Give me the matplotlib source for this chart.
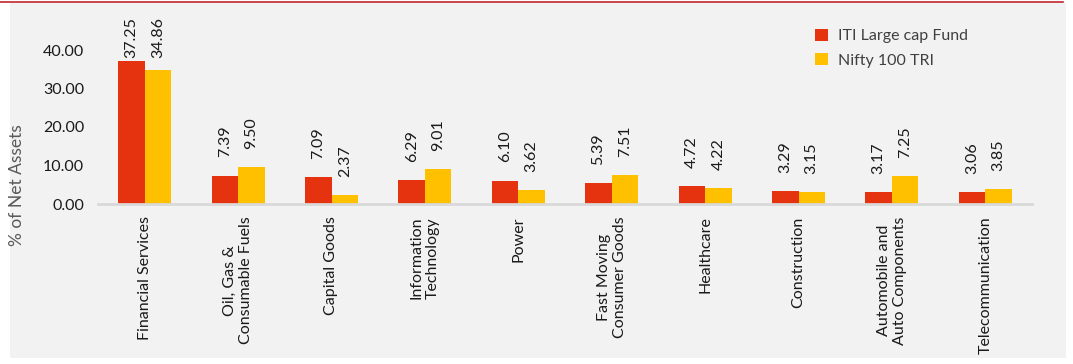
import matplotlib
matplotlib.use("Agg")
import matplotlib.pyplot as plt
from matplotlib.patches import Rectangle
from matplotlib.lines import Line2D
import numpy as np

categories = ["Financial Services", "Oil, Gas &\nConsumable Fuels", "Capital Goods",
              "Information\nTechnology", "Power", "Fast Moving\nConsumer Goods",
              "Healthcare", "Construction", "Automobile and\nAuto Components",
              "Telecommunication"]
fund = [37.25, 7.39, 7.09, 6.29, 6.10, 5.39, 4.72, 3.29, 3.17, 3.06]
index = [34.86, 9.50, 2.37, 9.01, 3.62, 7.51, 4.22, 3.15, 7.25, 3.85]
series_names = ["ITI Large cap Fund", "Nifty 100 TRI"]
yticks = [0, 10, 20, 30, 40]

RED = "#E5330F"
YEL = "#FFC000"
plt.rcParams['font.family'] = ['Lato', 'DejaVu Sans']

W, H = 1073, 364
fig = plt.figure(figsize=(W/100, H/100), dpi=100, facecolor="white")
fig.patches.append(Rectangle((10/W, 6/H), 1056/W, 355/H, transform=fig.transFigure,
                             facecolor="#F2F2F2", edgecolor="none", zorder=-5))
fig.lines.append(Line2D([0, 1063/W], [1 - 1.5/H, 1 - 1.5/H], transform=fig.transFigure,
                        color="#C0262D", linewidth=1.2, zorder=-4))

ax = fig.add_axes([98/W, (H-204)/H, 934/W, (204-11.5)/H])
ax.set_facecolor("none")
x = np.arange(len(categories))
bw = 0.284
b1 = ax.bar(x - bw/2, fund, bw, color=RED, label=series_names[0], zorder=2)
b2 = ax.bar(x + bw/2, index, bw, color=YEL, label=series_names[1], zorder=2)
ax.set_xlim(-0.5, len(categories) - 0.5)
ax.set_ylim(0, 50)

labels = []
for bars, vals in ((b1, fund), (b2, index)):
    for r, v in zip(bars, vals):
        t = ax.annotate(f"{v:.2f}", (r.get_x() + r.get_width()/2, v), xytext=(0, 13),
                        textcoords="offset points", rotation=90, ha="center", va="bottom",
                        fontsize=11.5, color="#1a1a1a")
        labels.append(t)

ax.set_yticks(yticks)
ax.set_yticklabels([f"{t:.2f}" for t in yticks], fontsize=11.5, color="#1a1a1a")
ax.set_xticks(x)
ax.set_xticklabels(categories, rotation=90, fontsize=11.5, color="#1a1a1a",
                   ha="center", va="top", multialignment="center")
ax.tick_params(axis="both", length=0)
ax.tick_params(axis="y", pad=10)
ax.tick_params(axis="x", pad=9)
for s in ("top", "right", "left"):
    ax.spines[s].set_visible(False)
ax.spines["bottom"].set_color("#D9D9D9")
ax.spines["bottom"].set_linewidth(2)
ax.set_ylabel("% of Net Assets", fontsize=12.5, color="#595959")
ax.yaxis.set_label_coords(25/W, 1 - 185/H, transform=fig.transFigure)

leg = ax.legend(loc="upper left", bbox_to_anchor=(703/934, 0.985), frameon=False,
                fontsize=11.5, handlelength=0.8, handleheight=0.8, handletextpad=0.6,
                labelspacing=0.6)
for t in leg.get_texts():
    t.set_color("#404040")

# keep value labels inside the plot area (top limit near figure top)
fig.canvas.draw()
renderer = fig.canvas.get_renderer()
top_px = H - 17
for t in labels:
    bb = t.get_window_extent(renderer)
    if bb.y1 > top_px:
        t.set_position((0, 13 - (bb.y1 - top_px) * 72 / 100))

fig.savefig("out.png", dpi=100, facecolor="white")
